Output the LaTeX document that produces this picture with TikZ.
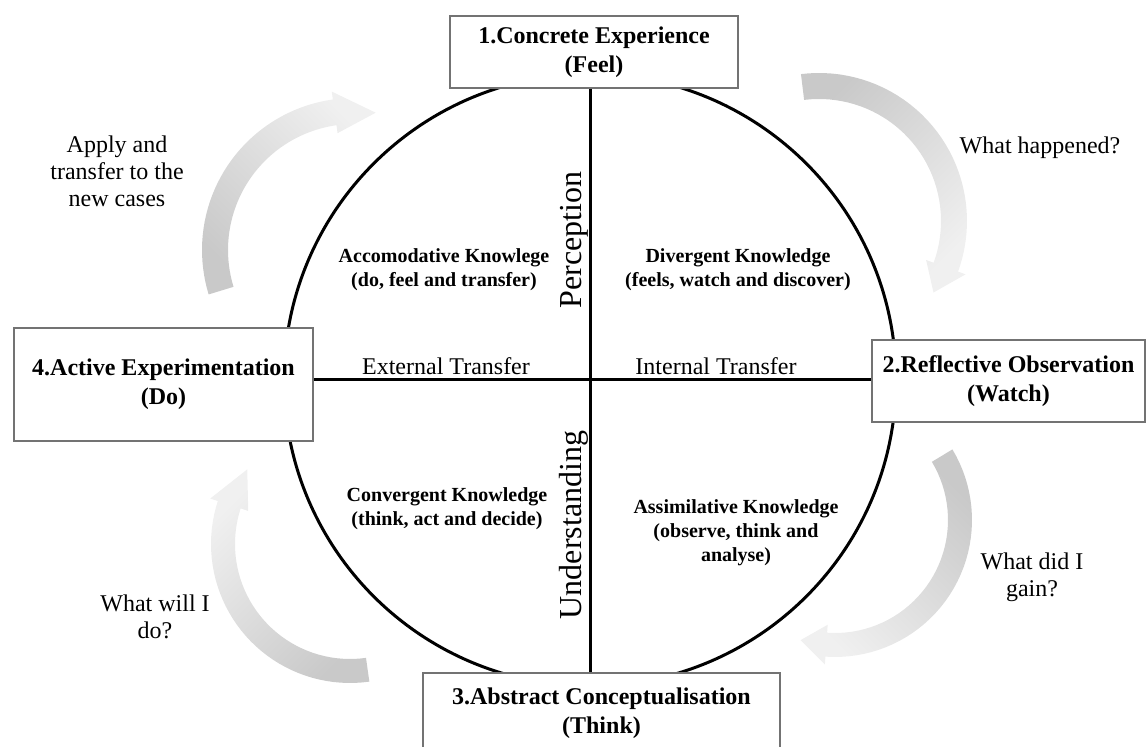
\documentclass[tikz,border=0pt]{standalone}
\usepackage{fontspec}
\setmainfont{Liberation Serif}
% curved gray arrow: cx, cy, R, half width, tail angle, head base angle, tip angle, head half width, shading angle
\newcommand{\kolbarrow}[9]{%
  \shade[arrowband, shading angle=#9]
    plot[domain=#5:#6, samples=40] ({#1+(#3+#4)*cos(\x)},{#2+(#3+#4)*sin(\x)})
    -- ({#1+(#3+#8)*cos(#6)},{#2+(#3+#8)*sin(#6)})
    -- ({#1+#3*cos(#7)},{#2+#3*sin(#7)})
    -- ({#1+(#3-#8)*cos(#6)},{#2+(#3-#8)*sin(#6)})
    -- plot[domain=#5:#6, samples=40] ({#1+(#3-#4)*cos(#5+#6-\x)},{#2+(#3-#4)*sin(#5+#6-\x)})
    -- cycle;}
\begin{document}
\begin{tikzpicture}[x=0.5pt,y=-0.5pt,
  stagebox/.style={draw=black!55, line width=0.8pt, fill=white, inner sep=0pt, align=center,
                   font=\fontsize{12}{14.5}\selectfont\bfseries},
  quadtext/.style={align=center, font=\fontsize{10}{12}\selectfont\bfseries, inner sep=0pt},
  sidetext/.style={align=center, font=\fontsize{12}{13.5}\selectfont, inner sep=0pt},
  axislabel/.style={font=\fontsize{16}{18}\selectfont, rotate=90, inner sep=0pt},
  transtext/.style={font=\fontsize{12}{14}\selectfont, inner sep=0pt},
  axisline/.style={line width=1.5pt},
  arrowband/.style={left color=black!21, right color=black!6}
]
\useasboundingbox (0,0) rectangle (1148,747);
\clip (0,0) rectangle (1148,747);

% curved arrows (clockwise cycle)
\kolbarrow{819}{221}{135}{13}{-97}{20}{32}{21}{45}
\kolbarrow{354}{250}{139}{13}{163}{262}{279}{21}{135}
\kolbarrow{835}{520}{125}{12}{-31}{94}{106}{20}{-45}
\kolbarrow{350}{544}{127}{12}{82}{198}{216}{20}{-135}

% wheel
\coordinate (c) at (590,380);
\node[circle, draw, line width=1.5pt, minimum size=306pt, inner sep=0pt] (wheel) at (c) {};

% stage boxes
\node[stagebox, minimum width=144pt, minimum height=36pt] (ce) at (594,52) {1.Concrete Experience\\(Feel)};
\node[stagebox, minimum width=136.5pt, minimum height=41pt] (ro) at (1008.5,381) {2.Reflective Observation\\(Watch)};
\node[stagebox, minimum width=178.5pt, minimum height=40pt] (ac) at (601.5,713) {3.Abstract Conceptualisation\\(Think)};
\node[stagebox, minimum width=149.5pt, minimum height=56.5pt] (ae) at (163.5,384.5) {4.Active Experimentation\\(Do)};

% axes
\draw[axisline] (ce.south -| c) -- (ac.north -| c);
\draw[axisline] (ae.east |- c) -- (ro.west |- c);

% labels
\node[axislabel] (perc) at (574,240) {Perception};
\node[axislabel] (und) at (574,525) {Understanding};
\node[transtext] (ext) at (446,366) {External Transfer};
\node[transtext] (int) at (716,366) {Internal Transfer};

\node[quadtext] (acc) at (444,270) {Accomodative Knowlege\\(do, feel and transfer)};
\node[quadtext] (div) at (738,270) {Divergent Knowledge\\(feels, watch and discover)};
\node[quadtext] (conv) at (447,509) {Convergent Knowledge\\(think, act and decide)};
\node[quadtext] (assim) at (736,533) {Assimilative Knowledge\\(observe, think and\\analyse)};

\node[sidetext] (t1) at (117,171) {Apply and\\transfer to the\\new cases};
\node[sidetext] (t2) at (1040,148) {What happened?};
\node[sidetext] (t3) at (1032,577) {What did I\\gain?};
\node[sidetext] (t4) at (155,617) {What will I\\do?};
\end{tikzpicture}
\end{document}
